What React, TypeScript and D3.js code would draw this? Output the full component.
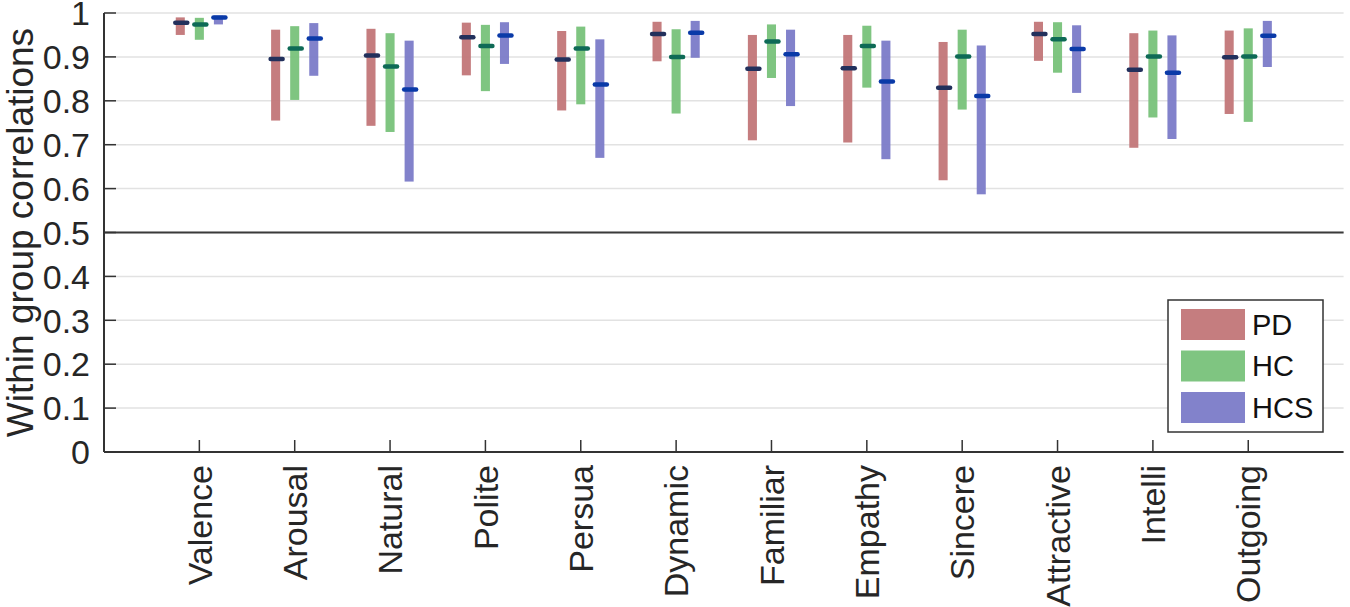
import * as d3 from "d3";

const categories = [
  "Valence", "Arousal", "Natural", "Polite", "Persua", "Dynamic",
  "Familiar", "Empathy", "Sincere", "Attractive", "Intelli", "Outgoing",
];

const groups = ["PD", "HC", "HCS"];

// [low, median, high] per category
const pdRanges: [number, number, number][] = [
  [0.950, 0.978, 0.990], [0.755, 0.895, 0.962], [0.743, 0.903, 0.964],
  [0.858, 0.945, 0.978], [0.778, 0.894, 0.959], [0.890, 0.952, 0.980],
  [0.710, 0.873, 0.950], [0.705, 0.874, 0.950], [0.619, 0.830, 0.934],
  [0.891, 0.952, 0.980], [0.693, 0.871, 0.954], [0.770, 0.899, 0.960],
];
const hcRanges: [number, number, number][] = [
  [0.939, 0.974, 0.989], [0.802, 0.919, 0.970], [0.729, 0.878, 0.954],
  [0.822, 0.925, 0.973], [0.792, 0.919, 0.969], [0.771, 0.900, 0.963],
  [0.852, 0.935, 0.974], [0.830, 0.925, 0.971], [0.780, 0.901, 0.962],
  [0.864, 0.940, 0.979], [0.762, 0.901, 0.960], [0.752, 0.901, 0.965],
];
const hcsRanges: [number, number, number][] = [
  [0.974, 0.990, 0.994], [0.857, 0.942, 0.977], [0.616, 0.826, 0.937],
  [0.884, 0.949, 0.979], [0.670, 0.837, 0.940], [0.898, 0.955, 0.982],
  [0.788, 0.906, 0.962], [0.667, 0.844, 0.937], [0.587, 0.811, 0.926],
  [0.818, 0.918, 0.972], [0.713, 0.864, 0.949], [0.877, 0.948, 0.982],
];

const yTicks = [0, 0.1, 0.2, 0.3, 0.4, 0.5, 0.6, 0.7, 0.8, 0.9, 1];

const barColors = ["#c27678", "#78c27a", "#7b7bc8"];
const medianColors = ["#22305c", "#0e6a56", "#0a3aa8"];
const FONT = "'Liberation Sans', Arial, Helvetica, sans-serif";

export default function App() {
  const width = 1350;
  const height = 607;
  const x = d3.scaleLinear().domain([0, 13]).range([104, 1343.6]);
  const y = d3.scaleLinear().domain([0, 1]).range([452, 13]);
  const offset = d3.scaleBand().domain(groups).range([-0.3, 0.3]);
  const barW = x(0.095) - x(0);
  const series = [pdRanges, hcRanges, hcsRanges];

  return (
    <svg
      width={width}
      height={height}
      style={{ position: "absolute", left: 0, top: 0, background: "#fff" }}
      fontFamily={FONT}
    >
      {/* grid */}
      {yTicks.filter((t) => t > 0).map((t) => (
        <line key={`g${t}`} x1={x(0)} x2={x(13)} y1={y(t)} y2={y(t)}
          stroke="#e2e2e2" strokeWidth={1.5} />
      ))}
      {/* reference line at 0.5 */}
      <line x1={x(0)} x2={x(13)} y1={y(0.5)} y2={y(0.5)} stroke="#3a3a3a" strokeWidth={2} />

      {/* bars */}
      {series.map((rows, si) =>
        rows.map(([lo, med, hi], ci) => {
          const cx = x(ci + 1) + (x(offset(groups[si])! + offset.bandwidth() / 2) - x(0));
          return (
            <g key={`${si}-${ci}`}>
              <rect x={cx - barW / 2} y={y(hi)} width={barW} height={y(lo) - y(hi)}
                fill={barColors[si]} fillOpacity={0.95} />
              <line x1={cx - 5} x2={cx + 7} y1={y(med)} y2={y(med)}
                stroke={medianColors[si]} strokeWidth={4.5} strokeLinecap="round" />
            </g>
          );
        }),
      )}

      {/* axes */}
      <line x1={x(0)} x2={x(0)} y1={y(1)} y2={y(0)} stroke="#333" strokeWidth={2} />
      <line x1={x(0)} x2={x(13)} y1={y(0)} y2={y(0)} stroke="#333" strokeWidth={2} />
      {yTicks.map((t) => (
        <g key={`yt${t}`}>
          <line x1={x(0)} x2={x(0) + 12} y1={y(t)} y2={y(t)} stroke="#333" strokeWidth={1.5} />
          <text x={90} y={y(t)} dy="0.36em" textAnchor="end" fontSize={34} fill="#262626">
            {t === 0 || t === 1 ? String(t) : t.toFixed(1)}
          </text>
        </g>
      ))}
      {categories.map((c, i) => (
        <g key={c}>
          <line x1={x(i + 1)} x2={x(i + 1)} y1={y(0)} y2={y(0) - 12} stroke="#333" strokeWidth={1.5} />
          <text transform={`translate(${x(i + 1)},${y(0) + 13}) rotate(-90)`}
            dy="0.36em" textAnchor="end" fontSize={34} fill="#262626">
            {c}
          </text>
        </g>
      ))}
      <text transform={`translate(33,${(y(0) + y(1)) / 2}) rotate(-90)`}
        textAnchor="middle" fontSize={37} fill="#262626">
        Within group correlations
      </text>

      {/* legend */}
      <rect x={1168} y={300} width={155} height={132} fill="#fff" stroke="#333" strokeWidth={1.5} />
      {groups.map((gname, i) => (
        <g key={gname} transform={`translate(1181,${309 + i * 41.5})`}>
          <rect width={64} height={31} fill={barColors[i]} fillOpacity={0.95} />
          <text x={71} y={15.5} dy="0.36em" fontSize={29} fill="#111">{gname}</text>
        </g>
      ))}
    </svg>
  );
}
